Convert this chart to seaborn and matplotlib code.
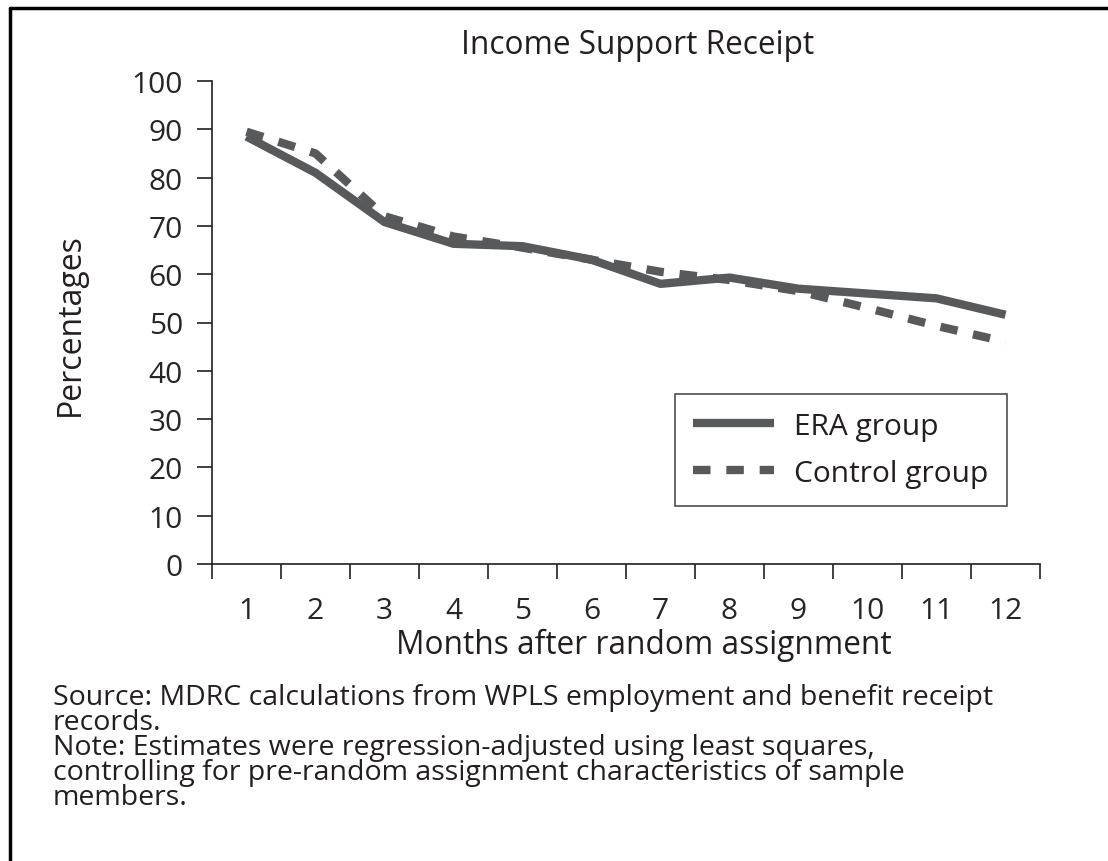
import matplotlib
matplotlib.use("Agg")
import matplotlib.pyplot as plt
import seaborn as sns
import pandas as pd
from matplotlib.lines import Line2D

months = list(range(1, 13))
era_group = [88.5, 81.0, 70.8, 66.3, 65.8, 63.0, 58.0, 59.3, 57.0, 56.0, 55.0, 51.6]
control_group = [89.5, 85.0, 72.0, 67.8, 65.5, 63.0, 60.5, 58.8, 56.5, 53.0, 49.3, 46.0]
series_names = ["ERA group", "Control group"]
y_ticks = list(range(0, 101, 10))

title = "Income Support Receipt"
x_label = "Months after random assignment"
y_label = "Percentages"
footnote = ("Source: MDRC calculations from WPLS employment and benefit receipt\n"
            "records.\n"
            "Note: Estimates were regression-adjusted using least squares,\n"
            "controlling for pre-random assignment characteristics of sample\n"
            "members.")

sns.set_theme(style="white")
plt.rcParams['font.family'] = ['Open Sans', 'DejaVu Sans']
plt.rcParams['text.color'] = '#231f20'

df = pd.DataFrame({
    "month": months * 2,
    "value": era_group + control_group,
    "group": [series_names[0]] * 12 + [series_names[1]] * 12,
})

W, H = 1108, 862
fig = plt.figure(figsize=(W / 100, H / 100), dpi=100)
fig.patch.set_facecolor("white")

ax = fig.add_axes([212 / W, 1 - 565 / H, 828 / W, 483 / H])
line_color = "#58595b"
sns.lineplot(data=df, x="month", y="value", hue="group", style="group",
             palette={series_names[0]: line_color, series_names[1]: line_color},
             dashes={series_names[0]: "", series_names[1]: (2.1, 1.9)},
             linewidth=6.0, ax=ax, legend=False, sort=False)
for ln in ax.lines:
    ln.set_solid_capstyle("butt")
    ln.set_dash_capstyle("butt")

ax.set_xlim(0.5, 12.5)
ax.set_ylim(0, 100)
ax.set_yticks(y_ticks)
ax.set_yticklabels([str(v) for v in y_ticks], fontsize=21.5)
# category boundaries as major ticks, labels at minor ticks
ax.set_xticks([m - 0.5 for m in months] + [12.5])
ax.set_xticklabels([])
ax.set_xticks(months, minor=True)
ax.set_xticklabels([str(m) for m in months], minor=True, fontsize=21.5)
ax.tick_params(axis="x", which="major", direction="out", length=11, width=1.2,
               color="#231f20", bottom=True)
ax.tick_params(axis="x", which="minor", length=0, pad=23, bottom=True)
ax.tick_params(axis="y", which="major", direction="out", length=11, width=1.2,
               color="#231f20", left=True, pad=10)
ax.set_xlabel("")
ax.set_ylabel("")
for side in ["top", "right"]:
    ax.spines[side].set_visible(False)
for side in ["left", "bottom"]:
    ax.spines[side].set_color("#231f20")
    ax.spines[side].set_linewidth(1.2)
ax.grid(False)

handles = [Line2D([0], [0], color=line_color, lw=6.0, solid_capstyle="butt"),
           Line2D([0], [0], color=line_color, lw=6.0, linestyle=(0, (2.1, 1.9)),
                  dash_capstyle="butt")]
leg = ax.legend(handles, series_names, loc="upper left",
                bbox_to_anchor=((675 - 212) / 828, (565 - 395) / 483),
                fontsize=21.5, frameon=True, fancybox=False, handlelength=2.7,
                handletextpad=0.7, borderpad=0.6, labelspacing=0.6,
                borderaxespad=0)
leg.get_frame().set_edgecolor("#231f20")
leg.get_frame().set_linewidth(1.2)

fig.text(638 / W, 1 - 46 / H, title, ha="center", va="center", fontsize=22.8)
fig.text(644 / W, 1 - 645 / H, x_label, ha="center", va="center", fontsize=22.8)
fig.text(70 / W, 1 - 325 / H, y_label, ha="center", va="center", rotation=90, fontsize=23)
fig.text(53 / W, 1 - 684 / H, footnote, ha="left", va="top", fontsize=20.5,
         linespacing=0.86)

# figure frame (top and left edges visible)
fig.add_artist(Line2D([10 / W, 1.0], [1 - 9 / H, 1 - 9 / H], transform=fig.transFigure,
                      color="black", lw=2.5))
fig.add_artist(Line2D([10 / W, 10 / W], [1 - 9 / H, 0.0], transform=fig.transFigure,
                      color="black", lw=2.5))

fig.savefig("out.png", dpi=100)
